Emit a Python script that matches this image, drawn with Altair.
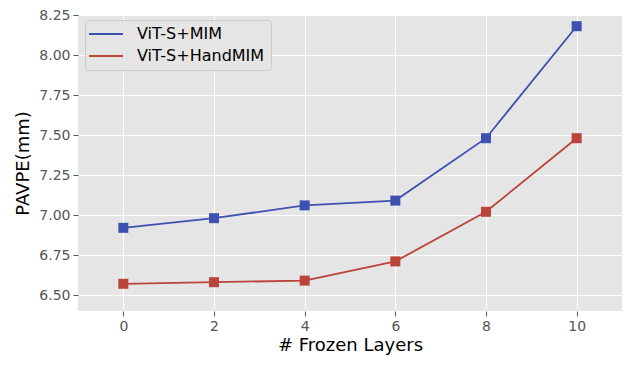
import altair as alt
import pandas as pd

layers = [0, 2, 4, 6, 8, 10]
mim = [6.92, 6.98, 7.06, 7.09, 7.48, 8.18]
handmim = [6.57, 6.58, 6.59, 6.71, 7.02, 7.48]
series_names = ["ViT-S+MIM", "ViT-S+HandMIM"]
colors = ["#3f51b0", "#bb4339"]

df = pd.DataFrame(
    [{"layers": l, "value": v, "series": series_names[0]} for l, v in zip(layers, mim)]
    + [{"layers": l, "value": v, "series": series_names[1]} for l, v in zip(layers, handmim)]
)

font = "DejaVu Sans"

x = alt.X("layers:Q", title="# Frozen Layers",
          scale=alt.Scale(domain=[-1, 11], nice=False, zero=False),
          axis=alt.Axis(values=[0, 2, 4, 6, 8, 10], format="d"))
y = alt.Y("value:Q", title="PAVPE(mm)",
          scale=alt.Scale(domain=[6.4, 8.25], nice=False, zero=False),
          axis=alt.Axis(values=[6.5, 6.75, 7.0, 7.25, 7.5, 7.75, 8.0, 8.25], format=".2f"))
color = alt.Color("series:N", scale=alt.Scale(domain=series_names, range=colors),
                  legend=alt.Legend(title=None, orient="none", legendX=7, legendY=5,
                                    symbolType="M-2,0H4.8", symbolSize=100, symbolStrokeWidth=1.8,
                                    labelFontSize=16, labelFont=font, labelColor="#000",
                                    fillColor="#e5e5e5", strokeColor="#cccccc", cornerRadius=3,
                                    padding=6, rowPadding=6, labelOffset=30))

base = alt.Chart(df)
lines = base.mark_line(strokeWidth=1.8).encode(x=x, y=y, color=color)
points = base.mark_point(shape="square", filled=True, size=100, opacity=1).encode(
    x=x, y=y, color=alt.Color("series:N", scale=alt.Scale(domain=series_names, range=colors), legend=None))

chart = alt.layer(lines, points).properties(
    width=544, height=296,
    autosize=alt.AutoSizeParams(type="none"),
    padding={"left": 70, "top": 7, "right": 0, "bottom": 47},
).configure_view(fill="#e5e5e5", stroke=None).configure_axis(
    grid=True, gridColor="white", gridWidth=1.1, domain=False,
    tickColor="#555555", tickSize=5, labelColor="#555555", labelFont=font, labelFontSize=14,
    titleFont=font, titleFontSize=18, titleFontWeight="normal", titleColor="#000",
    labelPadding=3,
).configure_axisX(titlePadding=3).configure_axisY(titlePadding=6)

chart.save("out.html", embed_options={"renderer": "svg", "actions": False})
